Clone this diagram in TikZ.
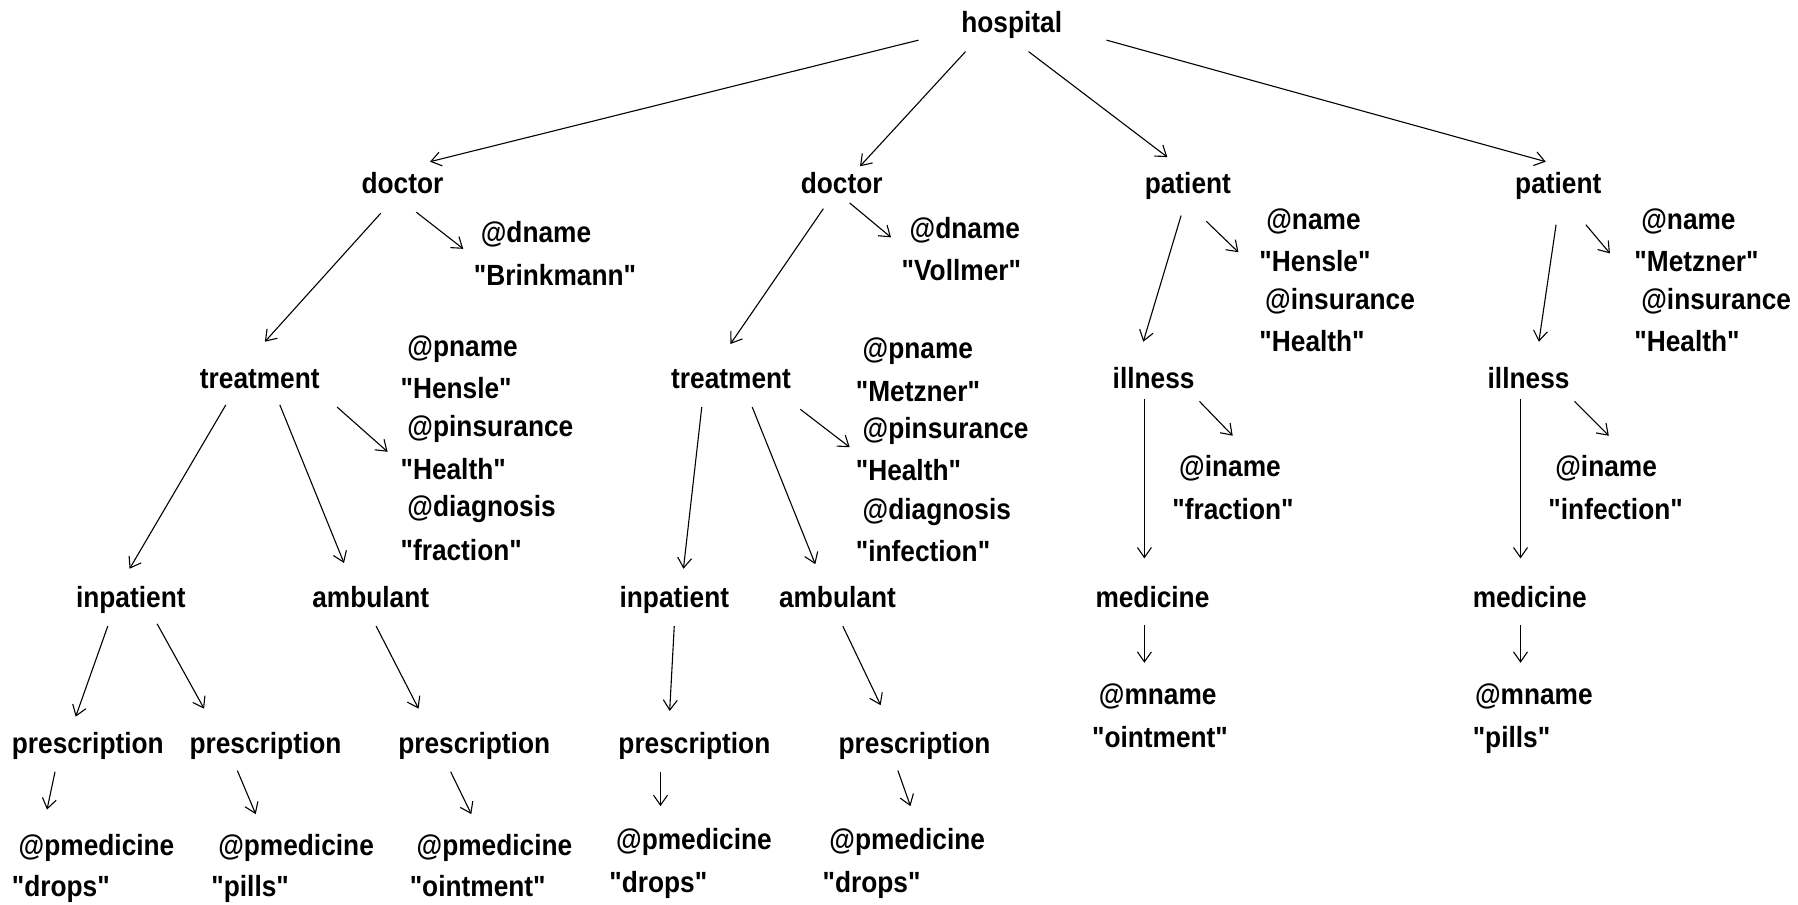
\documentclass[tikz,border=0pt]{standalone}
\usepackage{fontspec}
\setmainfont{Liberation Sans}[FakeStretch=0.9, Ligatures=TeXOff]
\usetikzlibrary{arrows.meta,calc}

\begin{document}
\begin{tikzpicture}[x=0.5734pt,y=-0.5734pt,
    tag/.style ={anchor=west, inner sep=0pt, text height=10pt, text depth=0pt,
                 font=\fontsize{14.6}{16}\selectfont\bfseries},
    link/.style={line width=0.55pt, -{Straight Barb[length=5pt,width=7pt]}}]
   \useasboundingbox (0,0) rectangle (1568,789);

   % elements
   \node[tag] (hosp) at (838,20)  {hospital};
   \node[tag] (doca) at (315,160) {doctor};
   \node[tag] (docb) at (698,160) {doctor};
   \node[tag] (pata) at (998,160) {patient};
   \node[tag] (patb) at (1321,160) {patient};
   \node[tag] (trea) at (174,330) {treatment};
   \node[tag] (treb) at (585,330) {treatment};
   \node[tag] (illa) at (970,330) {illness};
   \node[tag] (illb) at (1297,330) {illness};
   \node[tag] (inpa) at (66,521)  {inpatient};
   \node[tag] (amba) at (272,521) {ambulant};
   \node[tag] (inpb) at (540,521) {inpatient};
   \node[tag] (ambb) at (679,521) {ambulant};
   \node[tag] (meda) at (955,521) {medicine};
   \node[tag] (medb) at (1284,521) {medicine};
   \node[tag] (prea) at (10,648)  {prescription};
   \node[tag] (preb) at (165,648) {prescription};
   \node[tag] (prec) at (347,648) {prescription};
   \node[tag] (pred) at (539,648) {prescription};
   \node[tag] (pree) at (731,648) {prescription};

   % attributes
   \node[tag] (dnamea) at (419,203) {@dname};
   \node[tag] (dvala)  at (413,240) {"Brinkmann"};
   \node[tag] (dnameb) at (793,199) {@dname};
   \node[tag] (dvalb)  at (786,236) {"Vollmer"};
   \node[tag] (panamea) at (1104,191) {@name};
   \node[tag] (pavala)  at (1098,228) {"Hensle"};
   \node[tag] (painsa)  at (1103,261) {@insurance};
   \node[tag] (paivala) at (1098,298) {"Health"};
   \node[tag] (panameb) at (1431,191) {@name};
   \node[tag] (pavalb)  at (1425,228) {"Metzner"};
   \node[tag] (painsb)  at (1431,261) {@insurance};
   \node[tag] (paivalb) at (1425,298) {"Health"};
   \node[tag] (pnamea) at (355,302) {@pname};
   \node[tag] (pvala)  at (349,339) {"Hensle"};
   \node[tag] (pinsa)  at (355,372) {@pinsurance};
   \node[tag] (pivala) at (349,409) {"Health"};
   \node[tag] (diaga)  at (355,442) {@diagnosis};
   \node[tag] (dgvala) at (349,480) {"fraction"};
   \node[tag] (pnameb) at (752,304) {@pname};
   \node[tag] (pvalb)  at (746,341) {"Metzner"};
   \node[tag] (pinsb)  at (752,374) {@pinsurance};
   \node[tag] (pivalb) at (746,410) {"Health"};
   \node[tag] (diagb)  at (752,444) {@diagnosis};
   \node[tag] (dgvalb) at (746,481) {"infection"};
   \node[tag] (inamea) at (1028,407) {@iname};
   \node[tag] (ivala)  at (1022,444) {"fraction"};
   \node[tag] (inameb) at (1356,407) {@iname};
   \node[tag] (ivalb)  at (1350,444) {"infection"};
   \node[tag] (mnamea) at (958,606)  {@mname};
   \node[tag] (mvala)  at (952,643)  {"ointment"};
   \node[tag] (mnameb) at (1286,606) {@mname};
   \node[tag] (mvalb)  at (1284,643) {"pills"};
   \node[tag] (pmeda) at (16,737)  {@pmedicine};
   \node[tag] (pmvala) at (10,773) {"drops"};
   \node[tag] (pmedb) at (190,737) {@pmedicine};
   \node[tag] (pmvalb) at (184,773) {"pills"};
   \node[tag] (pmedc) at (363,737) {@pmedicine};
   \node[tag] (pmvalc) at (357,773) {"ointment"};
   \node[tag] (pmedd) at (537,732) {@pmedicine};
   \node[tag] (pmvald) at (531,770) {"drops"};
   \node[tag] (pmede) at (723,732) {@pmedicine};
   \node[tag] (pmvale) at (717,770) {"drops"};

   % links
   \draw[link] ($(hosp.west)+(-37,15)$) -- ($(doca.west)+(60,-19)$);
   \draw[link] ($(hosp.west)+(4,25)$)   -- ($(docb.west)+(52,-15)$);
   \draw[link] ($(hosp.west)+(59,25)$)  -- ($(pata.west)+(20,-23)$);
   \draw[link] ($(hosp.west)+(127,15)$) -- ($(patb.west)+(27,-19)$);
   \draw[link] ($(doca.west)+(17,26)$)  -- ($(trea.west)+(57,-32)$);
   \draw[link] ($(doca.west)+(48,25)$)  -- ($(dnamea.west)+(-15,14)$);
   \draw[link] ($(docb.west)+(20,22)$)  -- ($(treb.west)+(52,-30)$);
   \draw[link] ($(docb.west)+(43,17)$)  -- ($(dnameb.west)+(-16,8)$);
   \draw[link] ($(pata.west)+(32,28)$)  -- ($(illa.west)+(27,-32)$);
   \draw[link] ($(pata.west)+(54,33)$)  -- ($(panamea.west)+(-24,29)$);
   \draw[link] ($(patb.west)+(36,36)$)  -- ($(illb.west)+(45,-32)$);
   \draw[link] ($(patb.west)+(62,36)$)  -- ($(panameb.west)+(-27,30)$);
   \draw[link] ($(trea.west)+(23,23)$)  -- ($(inpa.west)+(47,-25)$);
   \draw[link] ($(trea.west)+(70,23)$)  -- ($(amba.west)+(28,-30)$);
   \draw[link] ($(trea.west)+(120,25)$) -- ($(pnamea.west)+(-17,92)$);
   \draw[link] ($(treb.west)+(27,25)$)  -- ($(inpb.west)+(56,-25)$);
   \draw[link] ($(treb.west)+(71,25)$)  -- ($(ambb.west)+(32,-29)$);
   \draw[link] ($(treb.west)+(113,27)$) -- ($(pnameb.west)+(-11,86)$);
   \draw[link] ($(illa.west)+(28,18)$)  -- ($(meda.west)+(43,-34)$);
   \draw[link] ($(illa.west)+(76,20)$)  -- ($(inamea.west)+(47,-27)$);
   \draw[link] ($(illb.west)+(29,18)$)  -- ($(medb.west)+(42,-34)$);
   \draw[link] ($(illb.west)+(76,20)$)  -- ($(inameb.west)+(47,-27)$);
   \draw[link] ($(inpa.west)+(28,25)$)  -- ($(prea.west)+(56,-23)$);
   \draw[link] ($(inpa.west)+(71,23)$)  -- ($(preb.west)+(13,-30)$);
   \draw[link] ($(amba.west)+(56,25)$)  -- ($(prec.west)+(18,-30)$);
   \draw[link] ($(inpb.west)+(48,25)$)  -- ($(pred.west)+(45,-28)$);
   \draw[link] ($(ambb.west)+(56,25)$)  -- ($(pree.west)+(37,-33)$);
   \draw[link] ($(meda.west)+(43,24)$)  -- ($(mnamea.west)+(40,-28)$);
   \draw[link] ($(medb.west)+(42,24)$)  -- ($(mnameb.west)+(40,-28)$);
   \draw[link] ($(prea.west)+(38,25)$)  -- ($(pmeda.west)+(25,-31)$);
   \draw[link] ($(preb.west)+(42,24)$)  -- ($(pmedb.west)+(33,-27)$);
   \draw[link] ($(prec.west)+(46,25)$)  -- ($(pmedc.west)+(48,-27)$);
   \draw[link] ($(pred.west)+(37,25)$)  -- ($(pmedd.west)+(39,-29)$);
   \draw[link] ($(pree.west)+(52,24)$)  -- ($(pmede.west)+(71,-29)$);
\end{tikzpicture}
\end{document}
